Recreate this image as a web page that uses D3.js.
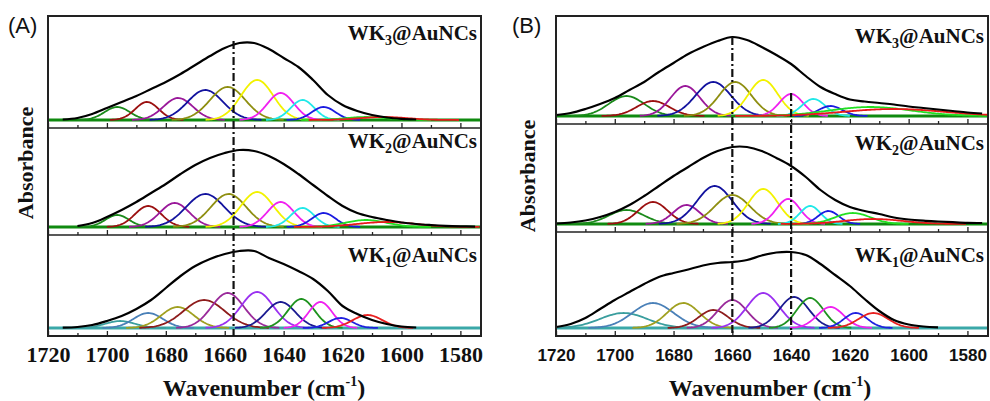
<!DOCTYPE html>
<html>
<head>
<meta charset="utf-8">
<script src="https://cdn.jsdelivr.net/npm/d3@7"></script>
<style>
  body { margin: 0; background: #fff; }
  svg { display: block; }
</style>
</head>
<body>
<svg id="chart" width="990" height="401"></svg>
<script>
// wavenumber grid of the read black envelopes (cm-1)
const wavenumbers = [1720, 1715, 1710, 1705, 1700, 1695, 1690, 1685, 1680, 1675, 1670, 1665, 1660, 1655, 1650,
  1645, 1640, 1635, 1630, 1625, 1620, 1615, 1610, 1605, 1600, 1595, 1590, 1585, 1580, 1575];
const xTicks = [1720, 1700, 1680, 1660, 1640, 1620, 1600, 1580];
const xMinor = [1710, 1690, 1670, 1650, 1630, 1610, 1590];
const sampleNames = ['WK3', 'WK2', 'WK1'];

// panel A, envelope absorbance (a.u.), 0 = not drawn
const envA3 = [0, 0.5, 2, 6, 12, 18, 24, 31, 38, 46, 55, 64, 72, 77, 77, 71, 62, 53, 40, 25, 15, 9, 5, 2.5, 1.2, 0.5, 0, 0, 0, 0];
const envA2 = [0, 0, 1, 4, 10, 17, 25, 34, 43, 53, 62, 69, 74, 77, 76, 71, 63, 53, 42, 31, 21, 14, 10, 7, 4.5, 3, 2, 1.2, 0.7, 0.4];
const envA1 = [0, 0.3, 1, 3, 7, 12, 19, 28, 40, 52, 62, 69, 74, 77, 77, 70, 64, 57, 49, 37, 22, 14, 8, 4, 1.5, 0.5, 0, 0, 0, 0];
// panel B
const envB3 = [1, 3, 7, 12, 18, 26, 34, 44, 53, 62, 69, 75, 79, 76, 69, 61, 52, 40, 29, 22, 16.5, 14.5, 13, 11.5, 9.5, 8, 6.5, 5, 3.5, 2.5];
const envB2 = [0.5, 1.5, 3.5, 7, 12, 19, 28, 38, 48, 57, 66, 73, 77, 77, 73, 66, 58, 47, 34, 24, 17, 13, 10, 6.5, 4.5, 3.3, 2.5, 1.8, 1.2, 1];
const envB1 = [1, 4, 10, 19, 28, 36, 44, 51, 55, 58.5, 62.5, 65, 66, 68, 72.5, 75.5, 76, 73, 64, 53, 42, 29, 17, 8, 3.5, 1.5, 0.7, 0, 0, 0];

// fitted Gaussian components: [centre cm-1, height, sigma cm-1]
const peaksA3 = [[1696.5, 13, 4.3], [1686.4, 18, 4], [1675.8, 22, 5], [1666.6, 30, 6], [1659, 33, 6],
  [1649, 40, 5.5], [1641, 27, 4.5], [1633.6, 20, 4], [1626.4, 13, 4], [1612, 3, 7], [1606, 3, 8]];
const peaksA2 = [[1696.5, 12, 4], [1686, 21, 4.5], [1677, 24, 5], [1666.6, 33, 6.5], [1658.7, 33, 6],
  [1649, 35, 5.5], [1641, 25, 4.5], [1633.6, 19, 4], [1626.4, 14, 4], [1612, 7, 7], [1605, 5, 10]];
const peaksA1 = [[1695.5, 7, 5], [1686, 15, 5], [1676, 21, 5.5], [1667, 28, 7], [1659, 35, 5.5],
  [1649, 36, 5.5], [1641, 26, 5], [1634, 29, 4.5], [1627.5, 26, 4], [1620.7, 10, 4], [1611.5, 13, 5]];
const peaksB3 = [[1696, 20, 6], [1687, 15, 5.5], [1676, 30, 5], [1666.5, 34, 6], [1659, 34, 5.5],
  [1649.5, 36, 5], [1640, 22, 4], [1632.4, 17, 4], [1626.6, 10, 4], [1613, 9, 14], [1605, 7, 17]];
const peaksB2 = [[1696, 14, 6], [1687, 22, 5], [1675.6, 19, 4.5], [1666, 38, 6], [1660, 29, 6],
  [1649.5, 35, 5], [1641, 25, 4], [1633.5, 18, 3.5], [1627.3, 13, 3.5], [1619, 11, 6], [1612, 5, 10]];
const peaksB1 = [[1697, 15, 8], [1687, 25, 7], [1676.7, 25, 5.5], [1666.4, 18, 5], [1660, 28, 5],
  [1649.5, 35, 5.5], [1639, 31, 5], [1633.5, 30, 4.5], [1626.6, 21, 4.5], [1618, 15, 4], [1612, 15, 5]];

// dash-dot marker positions (cm-1)
const markersA = [1657];
const markersB = [1660, 1640];

// ---- styles / layout ----
const serif = "'Liberation Serif', 'Times New Roman', serif";
const sans = "'Liberation Sans', Arial, sans-serif";
const colorsUpper = ['#1b8a1b', '#9b1010', '#9a189a', '#12129e', '#8e8e10', '#f2f200', '#f020f0', '#20e8e8', '#1a1ae0', '#22e022', '#e81a1a'];
const colorsLower = ['#3a9e9e', '#4a80b8', '#a0a020', '#8e1c1c', '#9a2a9a', '#9a30f0', '#1a1a90', '#1e921e', '#f020f0', '#2020e0', '#e82020'];
const baseColorUpper = '#0f8a0f';
const baseColorLower = '#3aa8a8';

const panels = [
  { tag: '(A)', x0: 48, x1: 481, top: 16, seps: [128, 235], bottom: 336, sans: false,
    env: [envA3, envA2, envA1], peaks: [peaksA3, peaksA2, peaksA1], markers: markersA, markerTop: [41],
    labelBase: [40, 148, 262], tagX: 8, absX: 33, absY: 163, titleX: 264 },
  { tag: '(B)', x0: 556, x1: 988, top: 16, seps: [124, 232], bottom: 336, sans: true,
    env: [envB3, envB2, envB1], peaks: [peaksB3, peaksB2, peaksB1], markers: markersB, markerTop: [37, 93],
    labelBase: [43, 150, 262], tagX: 512, absX: 535, absY: 176, titleX: 770 }
];

const svg = d3.select('#chart');
const defs = svg.append('defs');
const fine = d3.range(1720, 1572.5, -0.5);

panels.forEach((p, pi) => {
  const x = d3.scaleLinear().domain([1720, 1573]).range([p.x0, p.x1]);
  const bounds = [p.top, p.seps[0], p.seps[1], p.bottom];
  const g = svg.append('g');

  for (let s = 0; s < 3; s++) {
    const t = bounds[s], b = bounds[s + 1];
    const base = b - 8;
    const y = d3.scaleLinear().domain([0, 100]).range([base, base - 100]);
    const clipId = `clip${pi}${s}`;
    defs.append('clipPath').attr('id', clipId)
      .append('rect').attr('x', p.x0).attr('y', t).attr('width', p.x1 - p.x0).attr('height', b - t);
    const sg = g.append('g').attr('clip-path', `url(#${clipId})`);
    const lower = s === 2;
    const cols = lower ? colorsLower : colorsUpper;

    // baseline
    sg.append('line')
      .attr('x1', p.x0).attr('x2', p.x1).attr('y1', y(0)).attr('y2', y(0))
      .attr('stroke', lower ? baseColorLower : baseColorUpper).attr('stroke-width', 3);

    const line = d3.line().x(d => x(d[0])).y(d => y(d[1]));
    p.peaks[s].forEach((pk, k) => {
      const pts = fine.filter(w => Math.abs(w - pk[0]) < 3.2 * pk[2])
        .map(w => [w, pk[1] * Math.exp(-((w - pk[0]) ** 2) / (2 * pk[2] * pk[2]))]);
      sg.append('path').attr('d', line(pts)).attr('fill', 'none')
        .attr('stroke', cols[k % cols.length]).attr('stroke-width', 1.8);
    });

    const envLine = d3.line().defined(d => d > 0)
      .x((d, i) => x(wavenumbers[i])).y(d => y(d)).curve(d3.curveCatmullRom);
    sg.append('path').attr('d', envLine(p.env[s])).attr('fill', 'none')
      .attr('stroke', '#000').attr('stroke-width', 2.2);

    // inward ticks on the lower edge of each sub-panel
    const axG = g.append('g').attr('transform', `translate(0,${b})`);
    axG.call(d3.axisBottom(x).tickValues(xTicks).tickSize(-5).tickFormat(''));
    axG.append('g').call(d3.axisBottom(x).tickValues(xMinor).tickSize(-3).tickFormat(''));
    axG.selectAll('.domain').remove();
    axG.selectAll('line').attr('stroke', '#222').attr('stroke-width', 1.3);

    // sample label
    const lab = g.append('text')
      .attr('x', p.x1 - 4).attr('y', p.labelBase[s]).attr('text-anchor', 'end')
      .attr('font-family', serif).attr('font-weight', 'bold')
      .attr('font-size', 21).attr('fill', '#111');
    lab.append('tspan').text('WK');
    lab.append('tspan').attr('font-size', 14).attr('dy', 5).text(sampleNames[s].slice(2));
    lab.append('tspan').attr('dy', -5).text('@AuNCs');
  }

  // separators and frame
  p.seps.forEach(sy => g.append('line').attr('x1', p.x0).attr('x2', p.x1).attr('y1', sy).attr('y2', sy)
    .attr('stroke', '#222').attr('stroke-width', 1.5));
  g.append('rect').attr('x', p.x0).attr('y', p.top).attr('width', p.x1 - p.x0).attr('height', p.bottom - p.top)
    .attr('fill', 'none').attr('stroke', '#222').attr('stroke-width', 2);

  // dash-dot markers
  p.markers.forEach((m, i) => {
    g.append('line').attr('x1', x(m)).attr('x2', x(m)).attr('y1', p.markerTop[i]).attr('y2', p.bottom)
      .attr('stroke', '#111').attr('stroke-width', 2.2).attr('stroke-dasharray', '8,3,2,3');
  });

  // tick labels
  const tl = g.append('g').attr('transform', `translate(0,${p.bottom})`)
    .call(d3.axisBottom(x).tickValues(xTicks).tickSize(0).tickPadding(p.sans ? 13 : 10).tickFormat(d3.format('d')));
  tl.select('.domain').remove();
  tl.attr('font-family', p.sans ? sans : serif).attr('font-size', p.sans ? 17 : 22);
  tl.selectAll('text')
    .attr('font-family', p.sans ? sans : serif)
    .attr('font-weight', 'bold')
    .attr('font-size', p.sans ? 17 : 22)
    .attr('fill', '#111');

  // axis titles
  const xt = svg.append('text').attr('x', p.titleX).attr('y', 396)
    .attr('font-family', serif).attr('font-weight', 'bold')
    .attr('text-anchor', 'middle').attr('font-size', 24).attr('fill', '#111');
  xt.append('tspan').text('Wavenumber (cm');
  xt.append('tspan').attr('font-size', 14).attr('dy', -10).text('-1');
  xt.append('tspan').attr('dy', 10).text(')');

  svg.append('text')
    .attr('transform', `translate(${p.absX},${p.absY}) rotate(-90)`)
    .attr('font-family', serif).attr('font-weight', 'bold')
    .attr('text-anchor', 'middle').attr('font-size', 22).attr('fill', '#111').text('Absorbance');

  svg.append('text').attr('x', p.tagX).attr('y', 33)
    .attr('font-family', sans)
    .attr('font-size', 22).attr('fill', '#111').text(p.tag);
});
</script>
</body>
</html>
